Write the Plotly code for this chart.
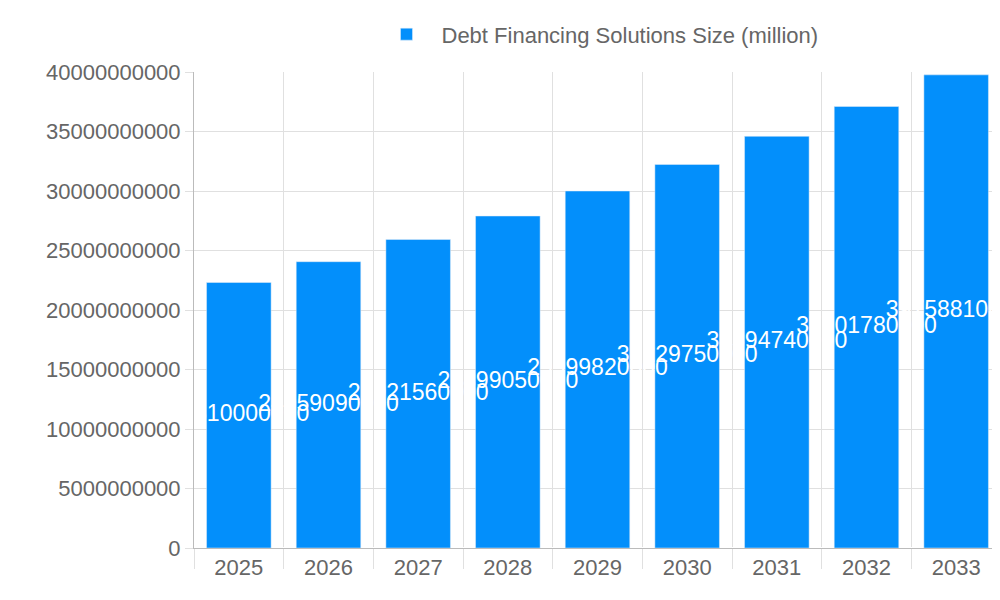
import plotly.graph_objects as go

years = ["2025","2026","2027","2028","2029","2030","2031","2032","2033"]
values = [22310000000, 24059090000, 25921560000, 27899050000, 29999820000,
          32229750000, 34594740000, 37101780000, 39758810000]
mid = [v/2 for v in values]

fig = go.Figure()
fig.add_bar(x=years, y=values, name="Debt Financing Solutions Size (million)",
            marker_color="#038ffb", width=0.72)
fig.add_scatter(x=years, y=mid, mode="text", text=[str(v) for v in values],
                textfont=dict(color="white", size=23, family="Liberation Sans"),
                showlegend=False, cliponaxis=True, hoverinfo="skip")
fig.update_layout(
    width=1000, height=600, plot_bgcolor="white", paper_bgcolor="white",
    margin=dict(l=186, r=7, t=64, b=60, autoexpand=False),
    font=dict(family="Liberation Sans", color="#666666", size=22),
    legend=dict(orientation="h", x=0.5, xanchor="center", y=1.035, yanchor="bottom",
                font=dict(size=22), itemwidth=60),
    bargap=0.28,
)
fig.update_yaxes(range=[0, 40000000000], dtick=5000000000, tickformat="d",
                 gridcolor="#e0e0e0", showline=True, linecolor="#bbbbbb",
                 ticks="outside", ticklen=8, tickcolor="#e0e0e0", automargin=False)
fig.update_xaxes(showgrid=True, gridcolor="#e0e0e0", showline=True, linecolor="#bbbbbb",
                 ticks="outside", ticklen=20, tickcolor="#e0e0e0", tickson="boundaries",
                 automargin=False)
fig.write_html("out.html")
